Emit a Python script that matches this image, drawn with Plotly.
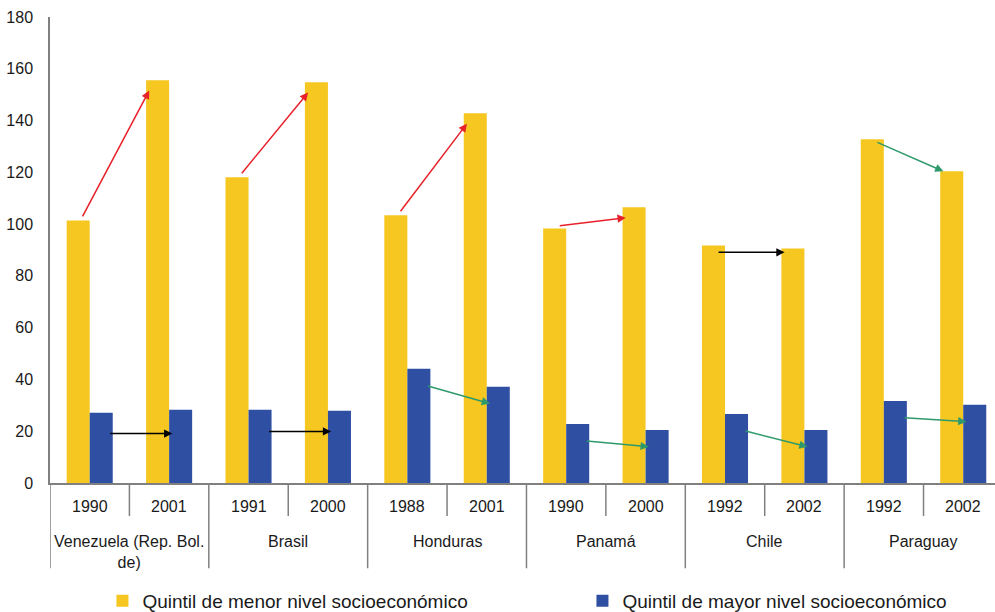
import plotly.graph_objects as go

# Data: per country, two survey years; indicator for lowest and highest socioeconomic quintile
countries = ["Venezuela (Rep. Bol.<br>de)", "Brasil", "Honduras", "Panamá", "Chile", "Paraguay"]
years = ["1990", "2001", "1991", "2000", "1988", "2001",
         "1990", "2000", "1992", "2002", "1992", "2002"]
menor = [101.4, 155.6, 118.1, 154.8, 103.4, 142.8, 98.3, 106.5, 91.7, 90.6, 132.8, 120.4]
mayor = [27.1, 28.3, 28.3, 27.9, 44.1, 37.2, 22.8, 20.5, 26.7, 20.5, 31.7, 30.2]
y_ticks = [0, 20, 40, 60, 80, 100, 120, 140, 160, 180]

YELLOW = "#f5c720"
BLUE = "#2f4fa2"
RED = "#e8202a"
GREEN = "#2e9a6b"
BLACK = "#000000"
TEXT = "#1a1a1a"
AXIS = "#808080"
FONT = "Liberation Sans, Arial, Helvetica, sans-serif"

xpos = list(range(len(years)))

fig = go.Figure()
fig.add_trace(go.Bar(x=xpos, y=menor, name="Quintil de menor nivel socioeconómico",
                     marker=dict(color=YELLOW, line=dict(width=0)), legend="legend"))
fig.add_trace(go.Bar(x=xpos, y=mayor, name="Quintil de mayor nivel socioeconómico",
                     marker=dict(color=BLUE, line=dict(width=0)), legend="legend2"))


def trend_color(a, b):
    d = b - a
    if abs(d) < 1.5:
        return BLACK
    return RED if d > 0 else GREEN


annotations = []
# Trend arrows between the two years of each country
for c in range(len(countries)):
    i, j = 2 * c, 2 * c + 1
    # lowest quintile (yellow bars)
    a, b = menor[i], menor[j]
    col = trend_color(a, b)
    if col == BLACK:
        ty = hy = min(a, b) - 1.5
    elif col == RED:
        ty, hy = a + 1, b - 4
    else:
        ty, hy = a - 1, b
    annotations.append(dict(x=j - 0.25, y=hy, ax=i - 0.1, ay=ty, axref="x", ayref="y",
                            xref="x", yref="y", text="", showarrow=True,
                            arrowhead=2, arrowsize=1.1, arrowwidth=1.5, arrowcolor=col))
    # highest quintile (blue bars)
    a, b = mayor[i], mayor[j]
    col = trend_color(a, b)
    if col == BLACK:
        ty = hy = min(a, b) - 8
    else:
        ty, hy = a - 6.5, b - 6.5
    annotations.append(dict(x=j + 0.04, y=hy, ax=i + 0.24, ay=ty, axref="x", ayref="y",
                            xref="x", yref="y", text="", showarrow=True,
                            arrowhead=2, arrowsize=1.1, arrowwidth=1.5, arrowcolor=col))

# Year labels under each pair of bars
for k, yr in enumerate(years):
    annotations.append(dict(x=k, y=-0.051, xref="x", yref="paper", text=yr,
                            showarrow=False, yanchor="middle",
                            font=dict(family=FONT, size=16, color=TEXT)))

# Country labels under each pair of years
for c, name in enumerate(countries):
    annotations.append(dict(x=2 * c + 0.5, y=-0.104, xref="x", yref="paper", text=name,
                            showarrow=False, yanchor="top", align="center",
                            font=dict(family=FONT, size=16, color=TEXT)))

shapes = []
# Separators in the category axis: short between years, long between countries
for k in range(len(years) + 1):
    long_sep = (k % 2 == 0)
    shapes.append(dict(type="line", xref="x", yref="paper",
                       x0=k - 0.5, x1=k - 0.5, y0=0, y1=-0.183 if long_sep else -0.071,
                       line=dict(color=AXIS, width=1.5)))

# Legends sit in the bottom margin, positioned in container coordinates
legend_style = dict(orientation="h", xanchor="left", yref="container", y=0.018,
                    yanchor="middle", font=dict(family=FONT, size=19, color=TEXT),
                    itemwidth=30, bgcolor="rgba(0,0,0,0)")

fig.update_layout(
    width=995, height=612,
    margin=dict(l=50, r=0, t=17, b=129),
    plot_bgcolor="white", paper_bgcolor="white",
    barmode="group", bargap=0.42, bargroupgap=0,
    font=dict(family=FONT, size=16, color=TEXT),
    showlegend=True,
    legend=dict(x=0.0555, **legend_style),
    legend2=dict(x=0.0555 + 480 / 945, **legend_style),
    annotations=annotations,
    shapes=shapes,
)
fig.update_xaxes(range=[-0.5, 11.4], showticklabels=False, ticks="",
                 showline=True, linecolor=AXIS, linewidth=1.5,
                 showgrid=False, zeroline=False)
fig.update_yaxes(range=[0, 180], tickvals=y_ticks, ticks="", ticklabelstandoff=12,
                 showline=True, linecolor=AXIS, linewidth=1.5,
                 showgrid=False, zeroline=False,
                 tickfont=dict(family=FONT, size=16, color=TEXT))

fig.write_html("out.html")
